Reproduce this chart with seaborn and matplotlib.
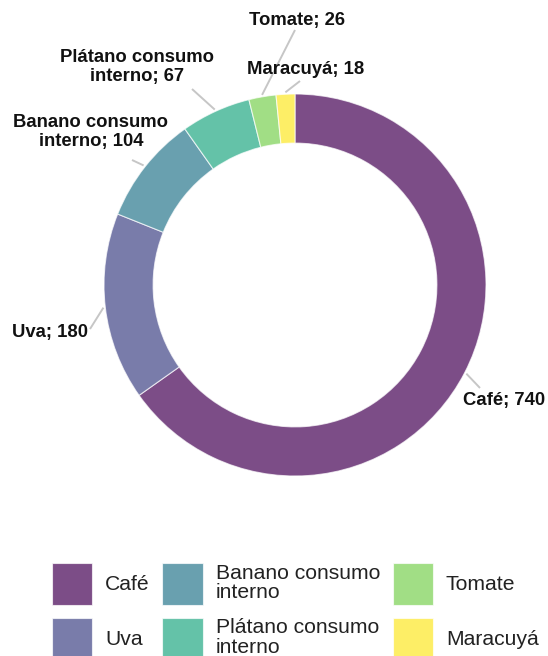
import numpy as np
import matplotlib
matplotlib.use("Agg")
import matplotlib.pyplot as plt
import seaborn as sns

cultivos = ["Café", "Uva", "Banano consumo interno", "Plátano consumo interno", "Tomate", "Maracuyá"]
legend_labels = ["Café", "Uva", "Banano consumo\ninterno", "Plátano consumo\ninterno", "Tomate", "Maracuyá"]
valores = [740, 180, 104, 67, 26, 18]
etiquetas = ["Café; 740", "Uva; 180", "Banano consumo\ninterno; 104",
             "Plátano consumo\ninterno; 67", "Tomate; 26", "Maracuyá; 18"]

sns.set_theme(style="white")
plt.rcParams["font.family"] = ["Liberation Sans", "DejaVu Sans"]

colores = sns.color_palette(list(plt.get_cmap("viridis")(np.linspace(0, 1, len(valores)))))

W, H = 548, 656
CX, CY, R = 295, 285, 191


def px(x, y):
    # pixel position -> data coordinates (radius 1 == R pixels)
    return (x - CX) / R, (CY - y) / R


fig = plt.figure(figsize=(W / 100, H / 100), dpi=100)
ax = fig.add_axes([0, 0, 1, 1])

wedges, _ = ax.pie(valores, colors=colores, startangle=90, counterclock=False,
                   radius=1, wedgeprops=dict(width=0.257, edgecolor="white",
                                             linewidth=0.8, alpha=0.7, zorder=2))

# label placement: (text anchor px, ha, leader end px)
colocacion = [
    ((463, 401), "left", (480, 388)),
    ((88, 333), "right", (90, 329)),
    ((91, 132), "center", (132, 160)),
    ((137, 67), "center", (192, 89)),
    ((297, 21), "center", (295, 30)),
    ((306, 70), "center", (300, 81)),
]

for w, txt, (pos, ha, fin) in zip(wedges, etiquetas, colocacion):
    ang = np.deg2rad((w.theta1 + w.theta2) / 2)
    x0, y0 = 1.01 * np.cos(ang), 1.01 * np.sin(ang)
    x1, y1 = px(*fin)
    ax.plot([x0, x1], [y0, y1], color="#c6c6c6", lw=1.4, solid_capstyle="butt", zorder=1)
    tx, ty = px(*pos)
    ax.text(tx, ty, txt, ha=ha, va="center", multialignment="center",
            fontsize=13.3, fontweight="bold", color="#111111", linespacing=1.08)

ax.set_xlim(px(0, 0)[0], px(W, 0)[0])
ax.set_ylim(px(0, H)[1], px(0, 0)[1])
ax.set_aspect("auto")
ax.axis("off")

leg = ax.legend(wedges, legend_labels, ncol=3, loc="upper left",
                bbox_to_anchor=(52 / W, 1 - 563 / H), bbox_transform=fig.transFigure,
                frameon=False, fontsize=15.2, handlelength=1.9, handleheight=2.7,
                handletextpad=0.62, columnspacing=0.6, labelspacing=0.6,
                borderpad=0, borderaxespad=0)
for t in leg.get_texts():
    t.set_color("#222222")
    t.set_linespacing(1.05)

fig.savefig("out.png", dpi=100)
